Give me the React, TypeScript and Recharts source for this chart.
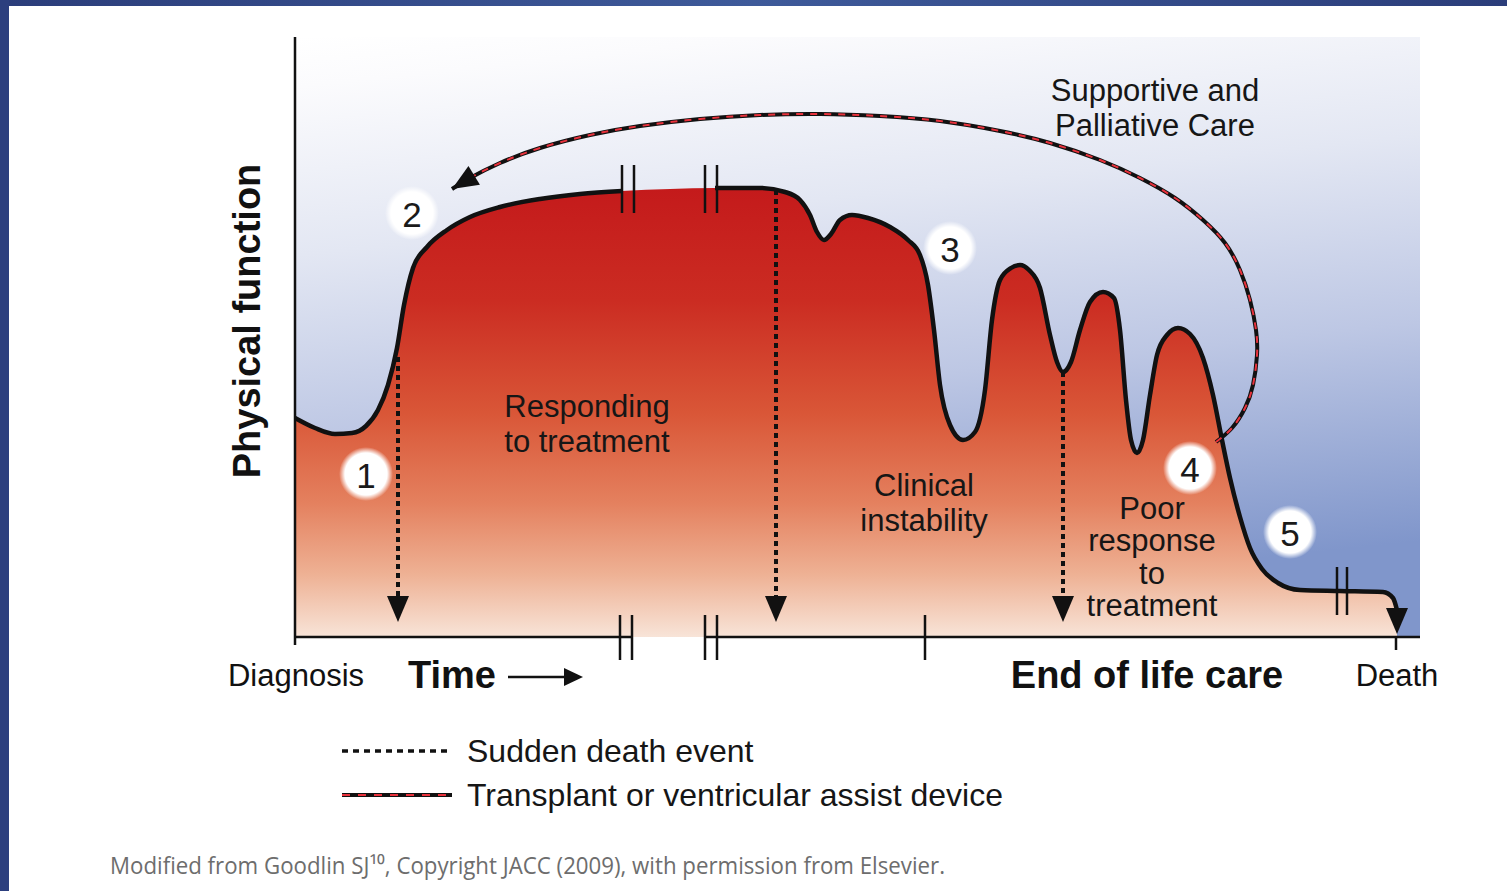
import {
  ComposedChart,
  Area,
  Line,
  Scatter,
  XAxis,
  YAxis,
  CartesianGrid,
  ReferenceLine,
  Legend,
  Label,
} from 'recharts';

const FONT = '"Liberation Sans", Arial, Helvetica, sans-serif';
const INK = '#111111';
const RED = '#e8323c';

// heart failure trajectory: time 0..1125, physical function 0..600 (arbitrary units)
const curveTime = [
  0, 20, 40, 57, 71, 83, 93, 102, 109, 118, 132, 152, 175, 205, 245, 285, 327, 375, 420, 465,
  490, 505, 515, 522, 529, 536, 545, 557, 573, 595, 613, 625, 633, 639, 645, 655, 668, 680, 690, 697,
  705, 716, 725, 734, 745, 755, 762, 768, 776, 785, 795, 808, 819, 825, 831, 836, 842, 848, 855, 862,
  872, 883, 895, 908, 918, 927, 935, 945, 955, 967, 983, 1005, 1045, 1088, 1098, 1102,
];
const curveFunction = [
  219, 209, 203, 204, 211, 227, 252, 289, 332, 369, 390, 407, 420, 430, 438, 443, 446, 448, 449, 449,
  445, 437, 422, 405, 397, 403, 417, 422, 419, 410, 397, 382, 352, 307, 252, 212, 197, 205, 247, 317,
  357, 369, 372, 367, 349, 302, 275, 265, 275, 307, 335, 345, 339, 307, 237, 197, 184, 197, 242, 282,
  302, 309, 303, 279, 242, 197, 159, 120, 89, 68, 54, 47, 46, 45, 39, 27,
];

// where the time axis is interrupted
const breakStart = 327;
const breakEnd = 420;
const curveBreakBars = [327, 339, 410, 422];
const axisBreakBars = [325, 337, 410, 422];
const lateBreakBars = [1042, 1052];

// sudden death events (dotted arrows)
const suddenDeathTime = [103, 481, 768];
const suddenDeathFrom = [280, 447, 265];

// transplant / VAD path (red-black arrow)
const arcTime = [921, 937, 950, 958, 962, 961, 955, 945, 930, 908, 880, 845, 805, 755, 705, 645, 585, 525, 465, 405, 345, 295, 245, 205, 175, 157];
const arcFunction = [195, 209, 229, 252, 282, 307, 337, 367, 394, 417, 439, 459, 477, 494, 506, 516, 521, 523, 522, 518, 511, 502, 489, 474, 459, 448];

// numbered stages
const stageLabels = ['1', '2', '3', '4', '5'];
const stageTime = [71, 117, 655, 895, 995];
const stageFunction = [163, 424, 389, 169, 105];

// notes inside the plot
const noteLines = [
  ['Responding', 'to treatment'],
  ['Clinical', 'instability'],
  ['Poor', 'response', 'to', 'treatment'],
  ['Supportive and', 'Palliative Care'],
];
const noteTime = [292, 629, 857, 860];
const noteFunction = [213, 134, 80, 529];

// labels under the time axis
const bottomLabels = ['Diagnosis', 'Time', 'End of life care', 'Death'];
const bottomLabelTime = [1, 157, 852, 1102];
const endOfLifeTick = 630;
const deathTick = 1101;

const legendLabels = ['Sudden death event', 'Transplant or ventricular assist device'];

const curveData = curveTime.map((x, i) => ({ x, y: curveFunction[i] }));
const curveLeft = curveData.filter((d) => d.x <= breakStart);
const curveRight = curveData.filter((d) => d.x >= breakEnd);
const arcData = arcTime.map((x, i) => ({ x, y: arcFunction[i] }));
const stageData = stageLabels.map((label, i) => ({ x: stageTime[i], y: stageFunction[i], label }));
const noteData = noteLines.map((lines, i) => ({ x: noteTime[i], y: noteFunction[i], lines }));

const n = arcData.length;
const heads = [
  ...suddenDeathTime.map((x) => ({ x, y: 15, dx: 0, dy: -1 })),
  { x: deathTick + 1, y: 3, dx: 0, dy: -1 },
  { x: arcData[n - 1].x, y: arcData[n - 1].y, dx: arcData[n - 1].x - arcData[n - 2].x, dy: arcData[n - 1].y - arcData[n - 2].y },
];

const renderHead = (p: any) => {
  const { dx, dy } = p.payload;
  const len = Math.hypot(dx, dy) || 1;
  const ux = dx / len;
  const uy = -dy / len; // screen y points down
  const L = 26;
  const W = 11;
  const bx = p.cx - ux * L;
  const by = p.cy - uy * L;
  const pts = `${p.cx},${p.cy} ${bx - uy * W},${by + ux * W} ${bx + uy * W},${by - ux * W}`;
  return <polygon points={pts} fill={INK} />;
};

const renderStage = (p: any) => (
  <g>
    <circle cx={p.cx} cy={p.cy} r={27} fill="url(#halo)" />
    <text x={p.cx} y={p.cy + 1} textAnchor="middle" dominantBaseline="central" fontSize={35} fill="#1a1a1a" fontFamily={FONT}>
      {p.payload.label}
    </text>
  </g>
);

const renderNote = (p: any) => {
  const lines: string[] = p.payload.lines;
  const lh = lines.length > 2 ? 32.5 : 35;
  const top = p.cy - ((lines.length - 1) * lh) / 2;
  return (
    <g>
      {lines.map((s, i) => (
        <text key={s} x={p.cx} y={top + i * lh} textAnchor="middle" dominantBaseline="central" fontSize={31} fill="#161616" fontFamily={FONT}>
          {s}
        </text>
      ))}
    </g>
  );
};

const renderBottomTick = (p: any) => {
  const i = bottomLabelTime.indexOf(p.payload.value);
  const bold = i === 1 || i === 2;
  const cy = p.y + 38;
  return (
    <g>
      <text x={p.x} y={cy} textAnchor="middle" dominantBaseline="central" fontSize={bold ? 38 : 31} fontWeight={bold ? 700 : 400} fill={INK} fontFamily={FONT}>
        {bottomLabels[i]}
      </text>
      {i === 1 && (
        <g>
          <line x1={p.x + 56} x2={p.x + 116} y1={cy + 2} y2={cy + 2} stroke={INK} strokeWidth={2.5} />
          <polygon points={`${p.x + 131},${cy + 2} ${p.x + 112},${cy - 7} ${p.x + 112},${cy + 11}`} fill={INK} />
        </g>
      )}
    </g>
  );
};

const renderYLabel = (p: any) => {
  const vb = p.viewBox;
  const x = vb.x + vb.width - 48;
  const y = vb.y + 284;
  return (
    <text x={x} y={y} transform={`rotate(-90, ${x}, ${y})`} textAnchor="middle" dominantBaseline="central" fontSize={38} fontWeight={700} fill={INK} fontFamily={FONT}>
      Physical function
    </text>
  );
};

const renderLegend = () => (
  <svg width={720} height={90} style={{ display: 'block' }}>
    <line x1={7} x2={117} y1={23} y2={23} stroke={INK} strokeWidth={3.5} strokeDasharray="6 5" />
    <text x={132} y={23} dominantBaseline="central" fontSize={32} fill="#161616" fontFamily={FONT}>
      {legendLabels[0]}
    </text>
    <line x1={7} x2={117} y1={67} y2={67} stroke={INK} strokeWidth={4} />
    <line x1={7} x2={117} y1={67} y2={67} stroke={RED} strokeWidth={2} strokeDasharray="8 8" />
    <text x={132} y={67} dominantBaseline="central" fontSize={32} fill="#161616" fontFamily={FONT}>
      {legendLabels[1]}
    </text>
  </svg>
);

const seg = (x1: number, y1: number, x2: number, y2: number) => [
  { x: x1, y: y1 },
  { x: x2, y: y2 },
];

export default function App() {
  return (
    <div style={{ position: 'absolute', left: 0, top: 0, width: 1507, height: 891, background: '#fff', fontFamily: FONT, overflow: 'hidden' }}>
      <ComposedChart width={1507} height={891} margin={{ top: 37, right: 87, bottom: 194, left: 0 }}>
        <defs>
          <linearGradient id="bgGrad" x1="0" y1="0" x2="0.2" y2="1">
            <stop offset="0" stopColor="#ffffff" />
            <stop offset="0.08" stopColor="#fbfbfd" />
            <stop offset="0.35" stopColor="#e3e7f3" />
            <stop offset="0.65" stopColor="#bdc7e4" />
            <stop offset="1" stopColor="#8096cb" />
          </linearGradient>
          <linearGradient id="redGrad" x1="0" y1="0" x2="0" y2="1">
            <stop offset="0" stopColor="#c41a1b" />
            <stop offset="0.25" stopColor="#cb2c22" />
            <stop offset="0.5" stopColor="#d95637" />
            <stop offset="0.7" stopColor="#e4805e" />
            <stop offset="0.86" stopColor="#eeb194" />
            <stop offset="1" stopColor="#f8e4d8" />
          </linearGradient>
          <radialGradient id="halo">
            <stop offset="0" stopColor="#ffffff" stopOpacity={1} />
            <stop offset="0.78" stopColor="#ffffff" stopOpacity={1} />
            <stop offset="1" stopColor="#ffffff" stopOpacity={0} />
          </radialGradient>
        </defs>
        <CartesianGrid horizontal={false} vertical={false} fill="url(#bgGrad)" />
        <XAxis
          type="number"
          dataKey="x"
          domain={[0, 1125]}
          ticks={bottomLabelTime}
          interval={0}
          tick={renderBottomTick}
          tickSize={0}
          tickMargin={0}
          axisLine={false}
          tickLine={false}
          height={60}
        />
        <YAxis type="number" dataKey="y" domain={[0, 600]} width={295} tick={false} tickLine={false} axisLine={{ stroke: INK, strokeWidth: 2.5 }}>
          <Label content={renderYLabel} />
        </YAxis>

        <Area data={curveData} dataKey="y" type="monotone" fill="url(#redGrad)" fillOpacity={1} stroke="none" isAnimationActive={false} />

        {/* broken time axis */}
        <ReferenceLine segment={seg(0, 0, axisBreakBars[1], 0)} stroke={INK} strokeWidth={2.5} ifOverflow="visible" />
        <ReferenceLine segment={seg(axisBreakBars[2], 0, 1125, 0)} stroke={INK} strokeWidth={2.5} ifOverflow="visible" />
        {axisBreakBars.map((x) => (
          <ReferenceLine key={`a${x}`} segment={seg(x, 22, x, -23)} stroke={INK} strokeWidth={2.5} ifOverflow="visible" />
        ))}
        {curveBreakBars.map((x) => (
          <ReferenceLine key={`c${x}`} segment={seg(x, 424, x, 472)} stroke={INK} strokeWidth={2.5} ifOverflow="visible" />
        ))}
        {lateBreakBars.map((x) => (
          <ReferenceLine key={`l${x}`} segment={seg(x, 22, x, 70)} stroke={INK} strokeWidth={2.5} ifOverflow="visible" />
        ))}
        <ReferenceLine segment={seg(0, 0, 0, -8)} stroke={INK} strokeWidth={2.5} ifOverflow="visible" />
        <ReferenceLine segment={seg(endOfLifeTick, 22, endOfLifeTick, -23)} stroke={INK} strokeWidth={2.5} ifOverflow="visible" />
        <ReferenceLine segment={seg(deathTick, 0, deathTick, -13)} stroke={INK} strokeWidth={2.5} ifOverflow="visible" />

        <Line data={curveLeft} dataKey="y" type="monotone" stroke={INK} strokeWidth={4.5} dot={false} isAnimationActive={false} />
        <Line data={curveRight} dataKey="y" type="monotone" stroke={INK} strokeWidth={4.5} dot={false} isAnimationActive={false} />

        {suddenDeathTime.map((x, i) => (
          <Line
            key={`sd${x}`}
            data={seg(x, suddenDeathFrom[i], x, 38)}
            dataKey="y"
            type="linear"
            stroke={INK}
            strokeWidth={4}
            strokeDasharray="5 4"
            dot={false}
            isAnimationActive={false}
          />
        ))}

        <Line data={arcData} dataKey="y" type="natural" stroke={INK} strokeWidth={4} dot={false} isAnimationActive={false} />
        <Line data={arcData} dataKey="y" type="natural" stroke={RED} strokeWidth={2} strokeDasharray="7 7" dot={false} isAnimationActive={false} />

        <Scatter data={heads} dataKey="y" shape={renderHead} isAnimationActive={false} />
        <Scatter data={noteData} dataKey="y" shape={renderNote} isAnimationActive={false} />
        <Scatter data={stageData} dataKey="y" shape={renderStage} isAnimationActive={false} />

        <Legend
          layout="vertical"
          verticalAlign="middle"
          align="center"
          content={renderLegend}
          wrapperStyle={{ position: 'absolute', left: 335, top: 728, width: 720, height: 90 }}
        />
      </ComposedChart>

      <svg width={1000} height={50} style={{ position: 'absolute', left: 0, top: 840 }}>
        <text x={110} y={25} dominantBaseline="central" fontSize={23} fill="#6d6d6d" fontFamily='"Open Sans", "Noto Sans", sans-serif' textLength={835} lengthAdjust="spacingAndGlyphs">
          Modified from Goodlin SJ¹⁰, Copyright JACC (2009), with permission from Elsevier.
        </text>
      </svg>

      <div style={{ position: 'absolute', left: 0, top: 0, width: 1507, height: 6, background: 'linear-gradient(90deg, #2b3d7a, #3e5a9a 50%, #2b3d7a)' }} />
      <div style={{ position: 'absolute', left: 0, top: 0, width: 9, height: 891, background: '#2c3f7e' }} />
    </div>
  );
}
